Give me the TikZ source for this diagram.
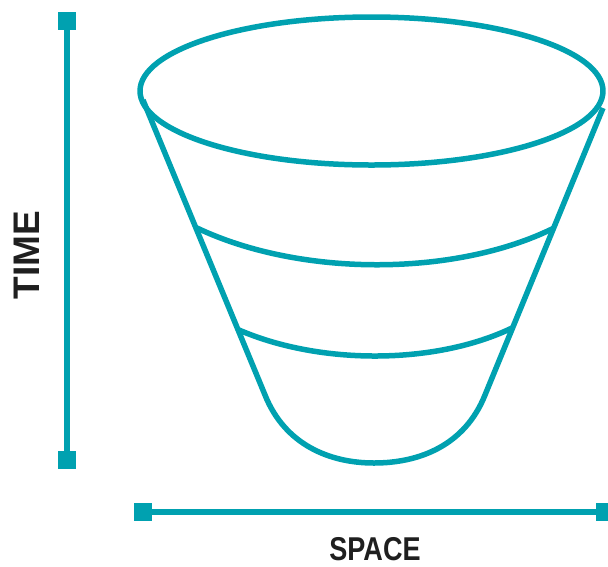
\documentclass[tikz,border=0pt]{standalone}
\usepackage{fontspec}
\setmainfont{Liberation Sans}
\definecolor{funnelteal}{RGB}{0,161,176}
\tikzset{
  endsq/.style={fill=funnelteal,inner sep=0pt,minimum size=18pt},
  axislabel/.style={inner sep=0pt,text=black!88,font=\bfseries}
}
\begin{document}
\begin{tikzpicture}[x=1pt,y=-1pt,line width=5.5pt,line join=round]
  \useasboundingbox (0,0) rectangle (608,566);
  % axes
  \node[endsq] (t0) at (67,21) {};
  \node[endsq] (t1) at (67,460) {};
  \draw[funnelteal] (t0.center) -- (t1.center);
  \node[endsq] (s0) at (143,512) {};
  \node[endsq] (s1) at (605,512) {};
  \draw[funnelteal] (s0.center) -- (s1.center);
  \node[axislabel,rotate=90,font=\bfseries\fontsize{37}{37}\selectfont] (time) at (27,255) {TIME};
  \node[axislabel,xscale=0.82,font=\bfseries\fontsize{33}{33}\selectfont] (space) at (375,549) {SPACE};
  % funnel
  \draw[funnelteal] (371.5,91) ellipse [x radius=231.5,y radius=74];
  \draw[funnelteal] (143,100) -- (265,395)
    .. controls (285,445) and (330,463) .. (374,463)
    .. controls (420,463) and (465,445) .. (485,395) -- (603,108);
  \draw[funnelteal] (197,228) .. controls (300,277) and (455,277) .. (554,228);
  \draw[funnelteal] (239,330) .. controls (320,365) and (435,365) .. (512,328);
\end{tikzpicture}
\end{document}
